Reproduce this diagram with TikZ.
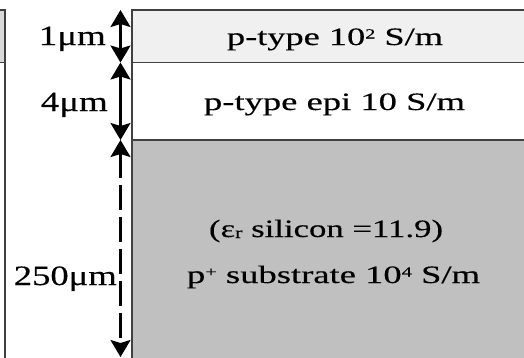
\documentclass[tikz,border=0pt]{standalone}
\usepackage{fontspec}
\setmainfont{Liberation Serif}[FakeBold=0.3]
\usetikzlibrary{arrows.meta}
\definecolor{edge}{RGB}{64,64,64}
\definecolor{topfill}{RGB}{240,240,240}
\definecolor{subfill}{RGB}{192,192,192}
\definecolor{leftfill}{RGB}{217,217,217}
\newcommand{\supx}[1]{\raisebox{6.5pt}{\fontsize{14}{15}\selectfont #1}}
\tikzset{
  layer/.style={draw=edge, line width=1.5pt},
  dim/.style={line width=2.5pt,
    {Stealth[length=17pt,width=20pt,inset=3pt]}-{Stealth[length=17pt,width=20pt,inset=3pt]}},
  maintext/.style={font=\fontsize{25}{30}\selectfont, inner sep=0pt, anchor=base},
  dimtext/.style={font=\fontsize{28}{33}\selectfont, inner sep=0pt, anchor=base east},
}
\begin{document}
\begin{tikzpicture}[x=1pt,y=-1pt]
\useasboundingbox (0,0) rectangle (524,357);
\clip (0,0) rectangle (524,357);
\fill[white] (0,0) rectangle (524,357);
% left partial stack
\filldraw[layer, fill=leftfill] (-10,10) rectangle (5,62.5);
\draw[layer] (5,62.5) -- (5,370);
% main stack
\filldraw[layer, fill=topfill] (132,10) rectangle (540,62.5);
\filldraw[layer, fill=white] (132,62.5) rectangle (540,140);
\filldraw[layer, fill=subfill] (132,140) rectangle (540,370);
% dimension coordinates
\coordinate (t0) at (120.5,10);
\coordinate (t1) at (120.5,62.5);
\coordinate (t2) at (120.5,140);
\coordinate (t3) at (120.5,357);
\draw[dim] (t0) -- (t1);
\draw[dim] (t1) -- (t2);
\draw[dim, dash pattern=on 25pt off 7pt] (t2) -- (t3);
% layer texts
\node[maintext] (l1) at (335,45) {\resizebox{216pt}{\height}{p-type 10\supx{2} S/m}};
\node[maintext] (l2) at (334.5,110) {\resizebox{261pt}{\height}{p-type epi 10 S/m}};
\node[maintext] (l3) at (326,237) {\resizebox{234pt}{\height}{(ε{\fontsize{16}{18}\selectfont\raisebox{-1pt}{r}} silicon =11.9)}};
\node[maintext] (l4) at (333.5,283) {\resizebox{293pt}{\height}{p\supx{+} substrate 10\supx{4} S/m}};
% dimension labels
\node[dimtext] (d1) at (106,45) {\resizebox{67pt}{\height}{1μm}};
\node[dimtext] (d2) at (108,111) {\resizebox{67pt}{\height}{4μm}};
\node[dimtext] (d3) at (117,285) {\resizebox{103pt}{\height}{250μm}};
\end{tikzpicture}
\end{document}
